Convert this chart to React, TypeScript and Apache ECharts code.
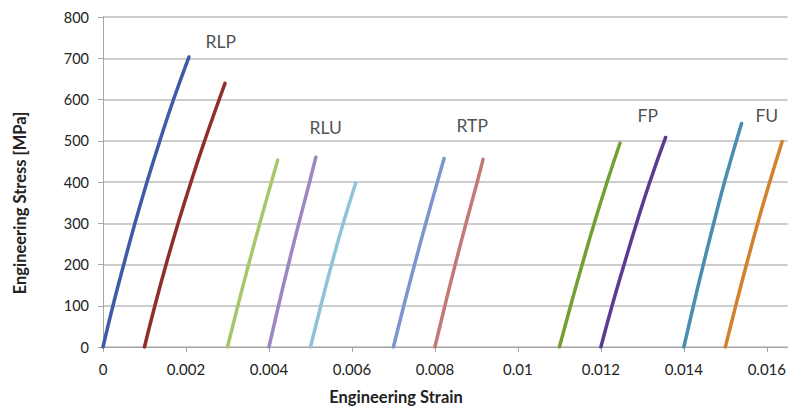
import React, { useEffect, useRef } from "react";
import * as echarts from "echarts";

// Each curve: strain values (x) and engineering stress values (y, MPa)
const seriesNames = ["RLP-1", "RLP-2", "RLU-1", "RLU-2", "RLU-3", "RTP-1", "RTP-2", "FP-1", "FP-2", "FU-1", "FU-2"];

const strainRLP1 = [0, 0.00024, 0.0005, 0.00077, 0.00106, 0.00137, 0.0017, 0.00207];
const stressRLP1 = [0, 100, 200, 300, 400, 500, 600, 703];

const strainRLP2 = [0.001, 0.00125, 0.00152, 0.00181, 0.00212, 0.00245, 0.0028, 0.00294];
const stressRLP2 = [0, 100, 200, 300, 400, 500, 600, 639];

const strainRLU1 = [0.003, 0.00325, 0.00351, 0.00378, 0.00406, 0.00421];
const stressRLU1 = [0, 100, 200, 300, 400, 453];

const strainRLU2 = [0.004, 0.00423, 0.00447, 0.00472, 0.00498, 0.00513];
const stressRLU2 = [0, 100, 200, 300, 400, 460];

const strainRLU3 = [0.005, 0.00525, 0.00551, 0.00579, 0.00609];
const stressRLU3 = [0, 100, 200, 300, 397];

const strainRTP1 = [0.007, 0.00725, 0.00751, 0.00778, 0.00806, 0.00822];
const stressRTP1 = [0, 100, 200, 300, 400, 457];

const strainRTP2 = [0.008, 0.00824, 0.00849, 0.00875, 0.00902, 0.00916];
const stressRTP2 = [0, 100, 200, 300, 400, 455];

const strainFP1 = [0.011, 0.01127, 0.01155, 0.01184, 0.01215, 0.01246];
const stressFP1 = [0, 100, 200, 300, 400, 494];

const strainFP2 = [0.012, 0.01227, 0.01256, 0.01286, 0.01318, 0.01356];
const stressFP2 = [0, 100, 200, 300, 400, 508];

const strainFU1 = [0.014, 0.01423, 0.01447, 0.01472, 0.01498, 0.01539];
const stressFU1 = [0, 100, 200, 300, 400, 542];

const strainFU2 = [0.015, 0.01525, 0.01551, 0.01578, 0.01607, 0.01637];
const stressFU2 = [0, 100, 200, 300, 400, 498];

const seriesColors = ["#3d5ca8", "#8f2e2c", "#a8c66c", "#9c87c3", "#91c2d9", "#7d94d1", "#c27a76", "#72a036", "#5a3b8f", "#4a8db0", "#d2812f"];

// Group labels
const groupLabels = ["RLP", "RLU", "RTP", "FP", "FU"];
const groupLabelStrain = [0.00284, 0.00537, 0.0089, 0.01313, 0.016];
const groupLabelStress = [740, 533, 536, 562, 562];

const yTicks = [0, 100, 200, 300, 400, 500, 600, 700, 800];
const xTitle = "Engineering Strain";
const yTitle = "Engineering Stress [MPa]";

const curves = [
  [strainRLP1, stressRLP1],
  [strainRLP2, stressRLP2],
  [strainRLU1, stressRLU1],
  [strainRLU2, stressRLU2],
  [strainRLU3, stressRLU3],
  [strainRTP1, stressRTP1],
  [strainRTP2, stressRTP2],
  [strainFP1, stressFP1],
  [strainFP2, stressFP2],
  [strainFU1, stressFU1],
  [strainFU2, stressFU2],
];

const FONT = "Lato, 'Open Sans', sans-serif";

export default function App() {
  const ref = useRef<HTMLDivElement>(null);
  useEffect(() => {
    if (!ref.current) return;
    const chart = echarts.init(ref.current, undefined, { renderer: "svg" });
    const lineSeries = curves.map((c, i) => ({
      name: seriesNames[i],
      type: "line",
      data: c[0].map((x, j) => [x, c[1][j]]),
      smooth: true,
      showSymbol: false,
      lineStyle: { color: seriesColors[i], width: 3.5, cap: "round" },
      itemStyle: { color: seriesColors[i] },
      z: 3,
    }));
    chart.setOption({
      animation: false,
      grid: { left: 103, right: 1, top: 17, bottom: 59, containLabel: false },
      graphic: [
        {
          type: "text",
          x: 396,
          y: 397,
          style: {
            text: xTitle,
            fontFamily: FONT,
            fontWeight: "bold",
            fontSize: 16.5,
            fill: "#222",
            align: "center",
            verticalAlign: "middle",
          },
        },
        {
          type: "text",
          x: 20,
          y: 203,
          rotation: Math.PI / 2,
          style: {
            text: yTitle,
            fontFamily: FONT,
            fontWeight: "bold",
            fontSize: 16.5,
            fill: "#222",
            align: "center",
            verticalAlign: "middle",
          },
        },
      ],
      xAxis: {
        type: "value",
        min: 0,
        max: 0.0165,
        interval: 0.002,
        axisLine: { show: true, lineStyle: { color: "#a6a6a6", width: 1 } },
        axisTick: { show: true, length: 5, lineStyle: { color: "#a6a6a6" } },
        splitLine: { show: false },
        axisLabel: {
          fontFamily: FONT,
          fontSize: 15,
          color: "#222",
          margin: 14,
          showMaxLabel: false,
          formatter: (v: number) => String(parseFloat(v.toFixed(4))),
        },
      },
      yAxis: {
        type: "value",
        min: yTicks[0],
        max: yTicks[yTicks.length - 1],
        interval: 100,
        axisLine: { show: true, lineStyle: { color: "#a6a6a6", width: 1 } },
        axisTick: { show: true, length: 5, lineStyle: { color: "#a6a6a6" } },
        splitLine: { show: true, lineStyle: { color: "#bdbdbd", width: 1.5 } },
        axisLabel: { fontFamily: FONT, fontSize: 14.5, color: "#222", margin: 14 },
      },
      series: [
        ...lineSeries,
        {
          name: "labels",
          type: "scatter",
          symbolSize: 0,
          data: groupLabels.map((n, i) => ({ value: [groupLabelStrain[i], groupLabelStress[i]], name: n })),
          label: {
            show: true,
            position: "inside",
            formatter: (p: any) => p.name,
            fontFamily: FONT,
            fontSize: 17.5,
            color: "#222",
          },
          z: 5,
        },
      ],
    });
    return () => chart.dispose();
  }, []);
  return <div ref={ref} style={{ width: 789, height: 406, position: "absolute", left: 0, top: 0, background: "#fff" }} />;
}
